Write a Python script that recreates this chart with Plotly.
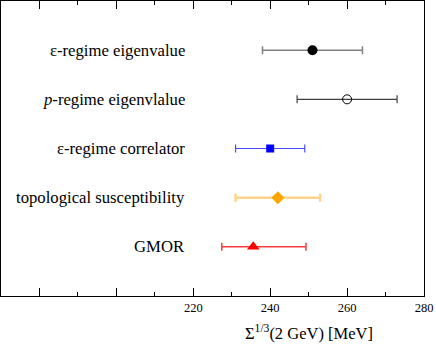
import plotly.graph_objects as go

# Condensate estimates, Sigma^(1/3) at 2 GeV in MeV
methods = ["ε-regime eigenvalue", "<i>p</i>-regime eigenvlalue", "ε-regime correlator",
           "topological susceptibility", "GMOR"]
values = [251.0, 260.0, 240.0, 242.0, 235.6]
err_plus = [13.0, 13.0, 9.0, 11.0, 13.7]
err_minus = [13.0, 13.0, 9.0, 11.0, 8.2]
rows = [5, 4, 3, 2, 1]

label_ticks = [220, 240, 260, 280]
bare_ticks = [180, 200]

SERIF = "Liberation Serif, Times New Roman, Times, serif"

styles = [
    dict(symbol="circle", size=10, color="black", line=dict(width=0), err="#808080", thick=1.5),
    dict(symbol="circle-open", size=9, color="black", line=dict(width=1), err="#404040", thick=1.2),
    dict(symbol="square", size=8, color="#0000ff", line=dict(width=0), err="#4a4aff", thick=1.2),
    dict(symbol="diamond", size=10, color="#ffa500", line=dict(width=0), err="#ffd48a", thick=2.5),
    dict(symbol="triangle-up", size=11, color="#ff0000", line=dict(width=0), err="#ff3c3c", thick=1.5),
]

fig = go.Figure()
for i, name in enumerate(methods):
    s = styles[i]
    fig.add_trace(go.Scatter(
        x=[values[i]], y=[rows[i]], mode="markers", name=name,
        marker=dict(symbol=s["symbol"], size=s["size"], color=s["color"], line=s["line"]),
        error_x=dict(type="data", symmetric=False, array=[err_plus[i]], arrayminus=[err_minus[i]],
                     color=s["err"], thickness=s["thick"], width=4),
    ))
    fig.add_annotation(x=218.4, y=rows[i], text=name, showarrow=False, xanchor="right",
                       font=dict(family=SERIF, size=16.7, color="black"))

# invisible trace so the second (unlabelled tick) axis gets drawn
fig.add_trace(go.Scatter(x=[None], y=[None], xaxis="x2", showlegend=False, hoverinfo="skip"))

fig.add_annotation(x=250.2, y=-0.125, xref="x", yref="paper", text="Σ<sup>1/3</sup>(2 GeV) [MeV]",
                   showarrow=False, yanchor="middle",
                   font=dict(family=SERIF, size=16.5, color="black"))

fig.update_layout(
    width=436, height=344,
    margin=dict(l=1, r=12, t=1, b=48),
    paper_bgcolor="white", plot_bgcolor="white",
    showlegend=False,
    font=dict(family=SERIF, color="black"),
    xaxis=dict(range=[170, 280], tickvals=label_ticks,
               ticks="inside", ticklen=8, tickwidth=1, tickcolor="black",
               minor=dict(dtick=10, tick0=170, ticks="inside", ticklen=4, tickcolor="black", tickwidth=1),
               showline=True, linecolor="black", linewidth=1, mirror="allticks",
               showgrid=False, zeroline=False, tickfont=dict(family=SERIF, size=12.5)),
    xaxis2=dict(range=[170, 280], overlaying="x", anchor="y", side="bottom", tickvals=bare_ticks,
                ticks="inside", ticklen=8, tickwidth=1, tickcolor="black", showticklabels=False,
                showline=False, mirror="allticks", showgrid=False, zeroline=False),
    yaxis=dict(range=[0, 6], showticklabels=False, ticks="", showline=True, linecolor="black",
               linewidth=1, mirror=True, showgrid=False, zeroline=False),
)

fig.write_html("out.html", config={"displayModeBar": False},
               post_script="document.body.style.margin='0';")
